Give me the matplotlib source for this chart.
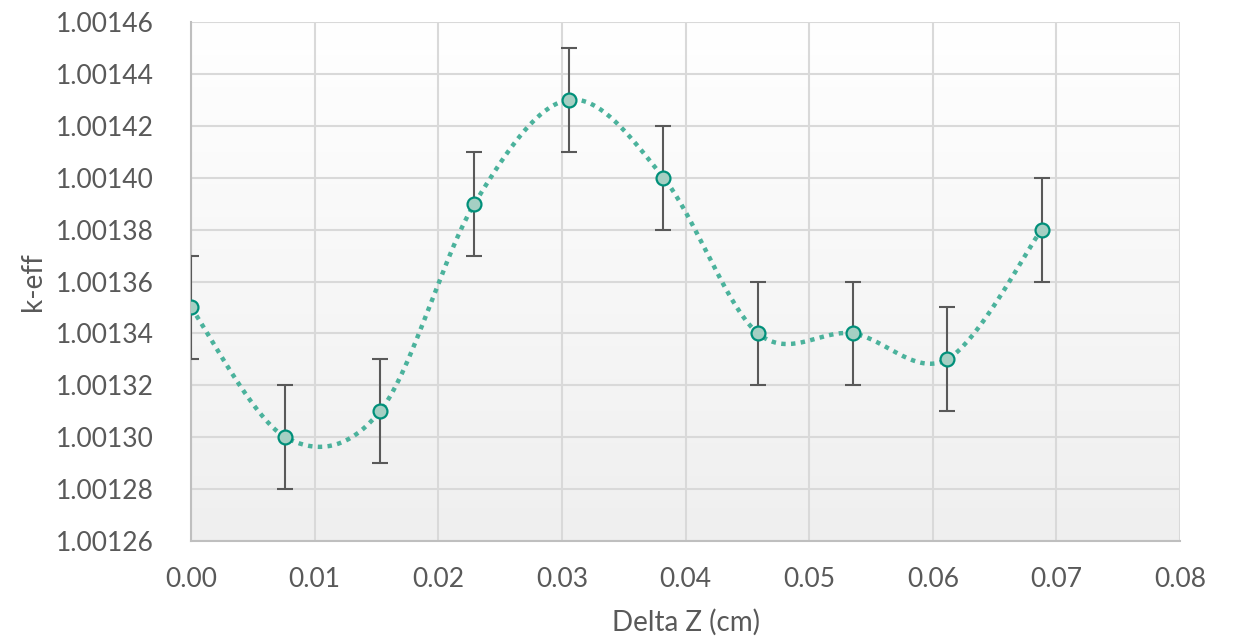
import numpy as np
import matplotlib
matplotlib.use("Agg")
import matplotlib.pyplot as plt
from matplotlib.colors import LinearSegmentedColormap

plt.rcParams['font.family'] = ['Lato', 'DejaVu Sans']

delta_z = [0.0, 0.00764, 0.01529, 0.02293, 0.03058, 0.03822, 0.04587, 0.05351, 0.06116, 0.0688]
k_eff = [1.00135, 1.00130, 1.00131, 1.00139, 1.00143, 1.00140, 1.00134, 1.00134, 1.00133, 1.00138]
k_err = [0.00002] * 10
y_ticks = [1.00126, 1.00128, 1.00130, 1.00132, 1.00134, 1.00136, 1.00138, 1.00140, 1.00142, 1.00144, 1.00146]
x_ticks = [0.00, 0.01, 0.02, 0.03, 0.04, 0.05, 0.06, 0.07, 0.08]

def catmull_rom(x, y, n=40):
    x = np.asarray(x, float); y = np.asarray(y, float)
    px = np.concatenate([[x[0]], x, [x[-1]]])
    py = np.concatenate([[y[0]], y, [y[-1]]])
    xs, ys = [], []
    for i in range(1, len(px) - 2):
        p0 = np.array([px[i-1], py[i-1]]); p1 = np.array([px[i], py[i]])
        p2 = np.array([px[i+1], py[i+1]]); p3 = np.array([px[i+2], py[i+2]])
        c1 = p1 + (p2 - p0) / 6.0
        c2 = p2 - (p3 - p1) / 6.0
        t = np.linspace(0, 1, n)[:, None]
        b = ((1-t)**3)*p1 + 3*((1-t)**2)*t*c1 + 3*(1-t)*t**2*c2 + t**3*p2
        xs.append(b[:, 0]); ys.append(b[:, 1])
    return np.concatenate(xs), np.concatenate(ys)

fig = plt.figure(figsize=(12.35, 6.43), dpi=100)
ax = fig.add_axes([191/1235, 1 - 541/643, (1180-191)/1235, (541-22)/643])

xmin, xmax = 0.0, 0.08
ymin, ymax = 1.00126, 1.00146
ax.set_xlim(xmin, xmax)
ax.set_ylim(ymin, ymax)

grad = np.linspace(1.0, 0.0, 256)[:, None]
cmap = LinearSegmentedColormap.from_list('bg', ['#efefef', '#ffffff'])
ax.imshow(grad, extent=[xmin, xmax, ymin, ymax], aspect='auto', cmap=cmap,
          origin='upper', zorder=0, vmin=0, vmax=1)

ax.set_xticks(x_ticks)
ax.set_yticks(y_ticks)
ax.set_xticklabels([f"{v:.2f}" for v in x_ticks])
ax.set_yticklabels([f"{v:.5f}" for v in y_ticks])
ax.grid(True, color='#d9d9d9', linewidth=1.5, zorder=1)
ax.set_axisbelow(True)
for s in ['top', 'right']:
    ax.spines[s].set_visible(False)
for s in ['left', 'bottom']:
    ax.spines[s].set_color('#bfbfbf')
    ax.spines[s].set_linewidth(1.5)
ax.tick_params(length=0, labelsize=19, colors='#595959')
ax.tick_params(axis='x', pad=19)
ax.tick_params(axis='y', pad=27)

sx, sy = catmull_rom(delta_z, k_eff)
ax.plot(sx, sy, color='#4bb29c', linewidth=3.2, linestyle=(0, (1, 1.2)), zorder=3)
ax.errorbar(delta_z, k_eff, yerr=k_err, fmt='none', ecolor='#595959',
            elinewidth=1.5, capsize=6, capthick=1.5, zorder=4)
ax.plot(delta_z, k_eff, 'o', markersize=10, markerfacecolor='#a5cfc3',
        markeredgecolor='#00907a', markeredgewidth=1.6, zorder=5)

ax.set_xlabel('Delta Z (cm)', fontsize=20, color='#595959', labelpad=12)
ax.set_ylabel('k-eff', fontsize=20, color='#595959', labelpad=7)

fig.savefig('out.png', dpi=100)
